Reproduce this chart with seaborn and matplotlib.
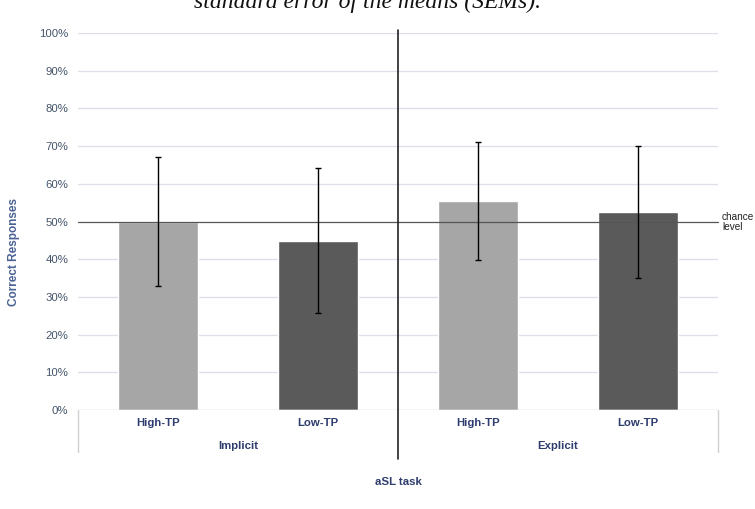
import matplotlib
matplotlib.use("Agg")
import matplotlib.pyplot as plt
import matplotlib.transforms as mtransforms
import seaborn as sns
import pandas as pd

# ---- data ----
groups = ["Implicit", "Implicit", "Explicit", "Explicit"]
tp_levels = ["High-TP", "Low-TP", "High-TP", "Low-TP"]
means = [50.0, 44.9, 55.4, 52.5]
sems = [17.2, 19.2, 15.6, 17.6]
group_names = ["Implicit", "Explicit"]
yticks = [0, 10, 20, 30, 40, 50, 60, 70, 80, 90, 100]
chance = 50

df = pd.DataFrame({
    "key": [f"{g} {t}" for g, t in zip(groups, tp_levels)],
    "group": groups,
    "tp": tp_levels,
    "mean": means,
    "sem": sems,
})

sns.set_theme(style="white")
plt.rcParams["font.family"] = ["Liberation Sans", "DejaVu Sans"]

W, H = 755, 509
fig = plt.figure(figsize=(W / 100, H / 100), dpi=100)
L, R, B, T = 78, 718, 410, 33
ax = fig.add_axes([L / W, 1 - B / H, (R - L) / W, (B - T) / H])

tick_col = "#44546a"
lab_col = "#2f3c6e"
grid_col = "#dcdee8"

sns.barplot(data=df, x="key", y="mean", hue="tp",
            palette={"High-TP": "#a6a6a6", "Low-TP": "#5a5a5a"},
            dodge=False, width=0.5, legend=False, ax=ax, zorder=2,
            errorbar=None)
ax.errorbar(x=list(range(len(means))), y=means, yerr=sems, fmt="none",
            ecolor="black", elinewidth=1.0, capsize=2.5, capthick=1.0, zorder=4)

ax.set_ylim(0, 100)
ax.set_xlim(-0.5, 3.5)
ax.set_yticks(yticks)
ax.set_yticklabels([f"{v}%" for v in yticks], color=tick_col, fontsize=8.2)
for v in yticks[1:]:
    if v != chance:
        ax.axhline(v, color=grid_col, lw=0.9, zorder=1)
ax.axhline(0, color="#d0d0d0", lw=1.0, zorder=3)

# chance level line
xf = mtransforms.blended_transform_factory(ax.transAxes, ax.transData)
ax.plot([0, 1.0], [chance, chance], color="#555555", lw=0.9,
        transform=xf, clip_on=False, zorder=3)
ax.text(722 / W, 1 - 222 / H, "chance\nlevel", transform=fig.transFigure,
        fontsize=7.2, color="#222222", ha="left", va="center", linespacing=1.0)

for s in ax.spines.values():
    s.set_visible(False)
ax.tick_params(axis="y", length=0, pad=7)
ax.tick_params(axis="x", length=0, pad=6)
ax.set_xticks(range(len(tp_levels)))
ax.set_xticklabels(tp_levels, fontsize=8.2, fontweight="bold", color=lab_col)
ax.set_xlabel("")

# category bracket lines
bx = mtransforms.blended_transform_factory(ax.transData, ax.transAxes)
hb = (452 - B) / (B - T)
ax.plot([-0.5, -0.5], [0, -hb], color="#d0d0d0", lw=1.0, transform=bx, clip_on=False)
ax.plot([3.5, 3.5], [0, -hb], color="#d0d0d0", lw=1.0, transform=bx, clip_on=False)

# divider
ax.plot([1.5, 1.5], [-(459 - B) / (B - T), (B - 30) / (B - T)], color="#222222",
        lw=1.2, transform=bx, clip_on=False, zorder=5)

# group labels
for i, g in enumerate(group_names):
    ax.text(0.5 + 2 * i, -(446 - B) / (B - T), g, transform=bx, ha="center",
            va="center", fontsize=8.2, fontweight="bold", color=lab_col)
ax.text(1.5, -(482 - B) / (B - T), "aSL task", transform=bx, ha="center",
        va="center", fontsize=8.2, fontweight="bold", color=lab_col)

ax.set_ylabel("Correct Responses", fontsize=8.5, fontweight="bold", color="#4a6294")
ax.yaxis.set_label_coords((20 - L) / (R - L), (B - 252) / (B - T))

fig.text(367 / W, 1 - 8 / H, "standard error of the means (SEMs).",
         ha="center", va="baseline", fontsize=17, style="italic",
         family=["Liberation Serif", "DejaVu Serif"], color="#111111")

fig.savefig("out.png", dpi=100)
